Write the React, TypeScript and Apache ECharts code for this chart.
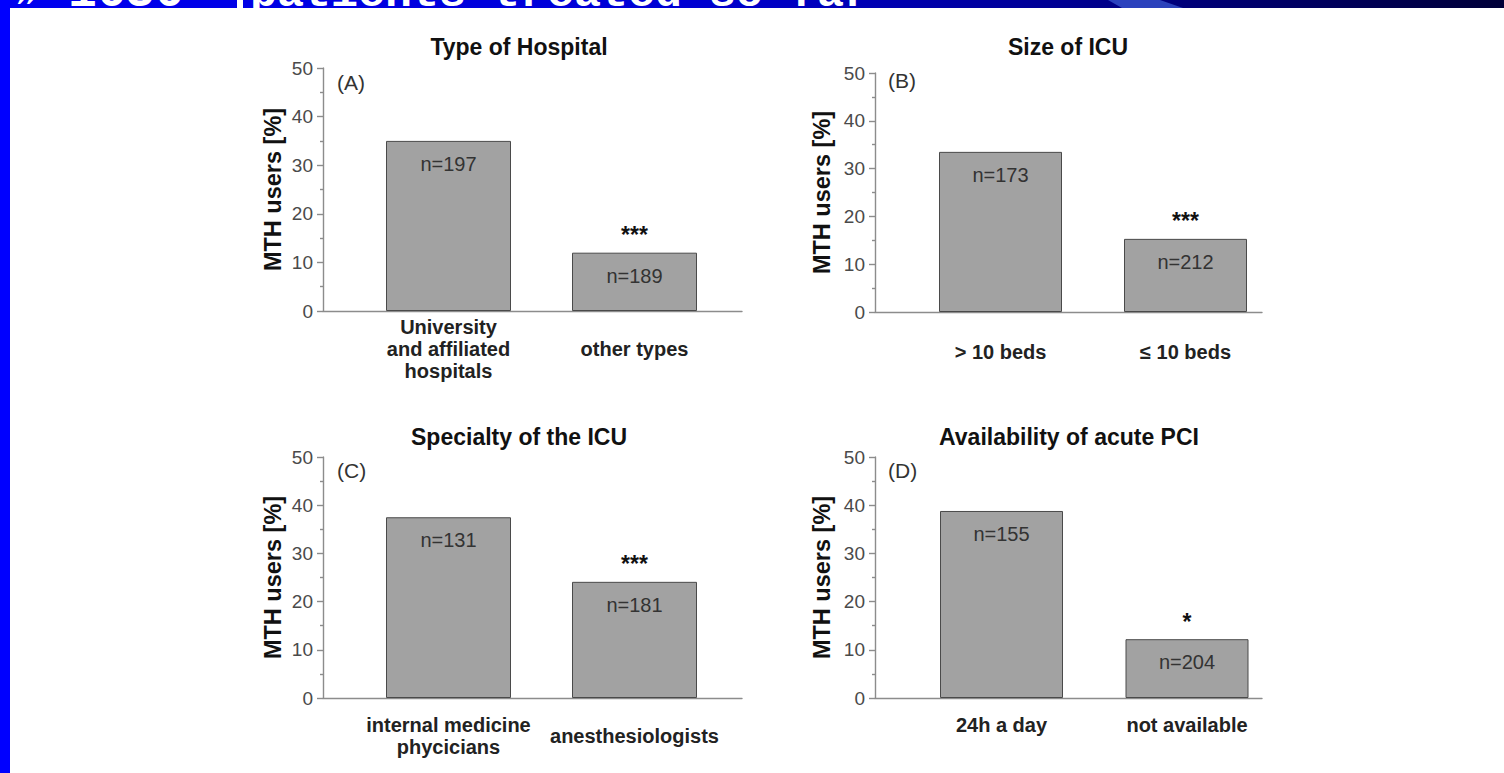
import React, { useEffect, useRef } from "react";
import * as echarts from "echarts";

// ---------- data ----------
const panelTitles = ["Type of Hospital", "Size of ICU", "Specialty of the ICU", "Availability of acute PCI"];
const panelLetters = ["(A)", "(B)", "(C)", "(D)"];

const categoriesA = ["University\nand affiliated\nhospitals", "other types"];
const categoriesB = ["> 10 beds", "\u2264 10 beds"];
const categoriesC = ["internal medicine\nphycicians", "anesthesiologists"];
const categoriesD = ["24h a day", "not available"];

const valuesA = [35.0, 12.0];
const valuesB = [33.5, 15.3];
const valuesC = [37.5, 24.1];
const valuesD = [38.8, 12.2];

const countsA = ["n=197", "n=189"];
const countsB = ["n=173", "n=212"];
const countsC = ["n=131", "n=181"];
const countsD = ["n=155", "n=204"];

const sigA = ["", "***"];
const sigB = ["", "***"];
const sigC = ["", "***"];
const sigD = ["", "*"];

const yTicks = [0, 10, 20, 30, 40, 50];
const yAxisName = "MTH users [%]";
const headerLeft = "1636";
const headerRight = "patients treated so far";

// ---------- layout / style ----------
const W = 1504;
const H = 773;
const FONT = '"Liberation Sans", Arial, sans-serif';
const HEAD_FONT = '"Liberation Mono", "DejaVu Sans Mono", monospace';
const AXIS = "#8c8c8c";
const BAR = "#a2a2a2";
const BAR_EDGE = "#4a4a4a";

const layouts = [
  { axisX: 323, top: 68, bottom: 311, lineEnd: 742, bandLeft: 355.5, bandWidth: 372, barWidth: 125, titleX: 519, titleY: 47, letterX: 337, letterY: 82, nameGap: 38, labelMargin: 38 },
  { axisX: 875, top: 73, bottom: 312, lineEnd: 1262, bandLeft: 908, bandWidth: 370, barWidth: 123, titleX: 1068, titleY: 47, letterX: 888, letterY: 80, nameGap: 41, labelMargin: 40 },
  { axisX: 323, top: 457, bottom: 698, lineEnd: 742, bandLeft: 355.5, bandWidth: 372, barWidth: 125, titleX: 519, titleY: 437, letterX: 337, letterY: 470, nameGap: 38, labelMargin: 38 },
  { axisX: 875, top: 457, bottom: 698, lineEnd: 1262, bandLeft: 908.75, bandWidth: 371, barWidth: 123, titleX: 1069, titleY: 437, letterX: 888, letterY: 470, nameGap: 41, labelMargin: 27 },
];

const panels = [
  { cats: categoriesA, vals: valuesA, counts: countsA, sig: sigA },
  { cats: categoriesB, vals: valuesB, counts: countsB, sig: sigB },
  { cats: categoriesC, vals: valuesC, counts: countsC, sig: sigC },
  { cats: categoriesD, vals: valuesD, counts: countsD, sig: sigD },
];

function buildOption() {
  const grid: any[] = [];
  const xAxis: any[] = [];
  const yAxis: any[] = [];
  const series: any[] = [];
  const graphic: any[] = [];

  const yMin = yTicks[0];
  const yMax = yTicks[yTicks.length - 1];
  const yInt = yTicks[1] - yTicks[0];

  panels.forEach((p, i) => {
    const L = layouts[i];
    const gA = 2 * i;
    const gB = 2 * i + 1;
    const h = L.bottom - L.top;
    grid.push({ left: L.axisX, top: L.top, width: L.lineEnd - L.axisX, height: h, containLabel: false });
    grid.push({ left: L.bandLeft, top: L.top, width: L.bandWidth, height: h, containLabel: false });

    // axes frame grid
    xAxis.push({
      gridIndex: gA, type: "value", min: 0, max: 1,
      axisLine: { show: true, onZero: false, lineStyle: { color: AXIS, width: 1.4 } },
      axisTick: { show: false }, axisLabel: { show: false }, splitLine: { show: false },
    });
    yAxis.push({
      gridIndex: gA, type: "value", min: yMin, max: yMax, interval: yInt,
      axisLine: { show: true, lineStyle: { color: AXIS, width: 1.4 } },
      axisTick: { show: true, length: 6, lineStyle: { color: AXIS, width: 1.4 } },
      minorTick: { show: true, splitNumber: 2, length: 3, lineStyle: { color: AXIS, width: 1.4 } },
      splitLine: { show: false }, minorSplitLine: { show: false },
      axisLabel: { margin: 10, fontSize: 19, color: "#4a4a4a", fontFamily: FONT },
      name: yAxisName, nameLocation: "middle", nameRotate: 90, nameGap: L.nameGap,
      nameTextStyle: { fontSize: 23.5, fontWeight: "bold", color: "#111", fontFamily: FONT },
    });

    // bar grid
    xAxis.push({
      gridIndex: gB, type: "category", data: p.cats,
      axisLine: { show: false }, axisTick: { show: false }, splitLine: { show: false },
      axisLabel: { interval: 0, margin: L.labelMargin, verticalAlign: "middle", fontSize: 20, lineHeight: 22, fontWeight: "bold", color: "#222", fontFamily: FONT },
    });
    yAxis.push({ gridIndex: gB, type: "value", min: yMin, max: yMax, show: false, splitLine: { show: false } });

    series.push({
      type: "bar", xAxisIndex: gB, yAxisIndex: gB, data: p.vals, barWidth: L.barWidth,
      itemStyle: { color: BAR, borderColor: BAR_EDGE, borderWidth: 1 },
      label: { show: true, position: "insideTop", distance: 13, formatter: (q: any) => p.counts[q.dataIndex], fontSize: 20, color: "#333", fontFamily: FONT },
    });
    series.push({
      type: "bar", xAxisIndex: gB, yAxisIndex: gB, data: p.vals, barWidth: L.barWidth, barGap: "-100%",
      itemStyle: { color: "rgba(0,0,0,0)", borderWidth: 0 }, silent: true,
      label: { show: true, position: "top", distance: 6, formatter: (q: any) => p.sig[q.dataIndex], fontSize: 23, fontWeight: "bold", color: "#111", fontFamily: FONT },
    });

    graphic.push({
      type: "text", x: L.titleX, y: L.titleY, z: 10,
      style: { text: panelTitles[i], fontSize: 23, fontWeight: "bold", fontFamily: FONT, fill: "#111", align: "center", verticalAlign: "middle" },
    });
    graphic.push({
      type: "text", x: L.letterX, y: L.letterY, z: 10,
      style: { text: panelLetters[i], fontSize: 21, fontFamily: FONT, fill: "#333", align: "left", verticalAlign: "middle" },
    });
  });

  // slide decoration
  graphic.push({
    type: "rect", z: 1, shape: { x: 0, y: 0, width: W, height: 8 },
    style: {
      fill: new echarts.graphic.LinearGradient(0, 0, 1, 0, [
        { offset: 0, color: "#0000f0" },
        { offset: 0.45, color: "#0000d4" },
        { offset: 0.7, color: "#000094" },
        { offset: 1, color: "#000038" },
      ]),
    },
  });
  graphic.push({ type: "polygon", z: 2, shape: { points: [[1108, 0], [1160, 0], [1183, 8], [1122, 8]] }, style: { fill: "#3a58d0", opacity: 0.75 } });
  graphic.push({ type: "text", z: 3, x: 68, y: -7, style: { text: headerLeft, fontSize: 48, fontWeight: "bold", fontFamily: HEAD_FONT, fill: "#ffffff", align: "left", verticalAlign: "middle" } });
  graphic.push({ type: "text", z: 3, x: 250, y: -6, style: { text: headerRight, fontSize: 45, fontWeight: "bold", fontFamily: HEAD_FONT, fill: "#ffffff", align: "left", verticalAlign: "middle" } });
  graphic.push({ type: "text", z: 3, x: 16, y: -10, style: { text: "\u00bb", fontSize: 46, fontWeight: "bold", fontFamily: '"Liberation Serif", serif', fill: "#ffffff", align: "left", verticalAlign: "middle" } });
  graphic.push({ type: "rect", z: 4, shape: { x: 0, y: 8, width: W, height: 26 }, style: { fill: "#ffffff" } });
  graphic.push({ type: "rect", z: 5, shape: { x: 237, y: 0, width: 6, height: 8 }, style: { fill: "#ffffff" } });
  graphic.push({ type: "rect", z: 6, shape: { x: 0, y: 0, width: 10, height: H }, style: { fill: "#0000ff" } });

  return { animation: false, backgroundColor: "#ffffff", grid, xAxis, yAxis, series, graphic };
}

export default function App() {
  const ref = useRef<HTMLDivElement>(null);
  useEffect(() => {
    document.body.style.margin = "0";
    const chart = echarts.init(ref.current as HTMLDivElement, null, { renderer: "svg", width: W, height: H });
    chart.setOption(buildOption() as any);
    return () => chart.dispose();
  }, []);
  return <div ref={ref} style={{ width: W, height: H, background: "#fff" }} />;
}
